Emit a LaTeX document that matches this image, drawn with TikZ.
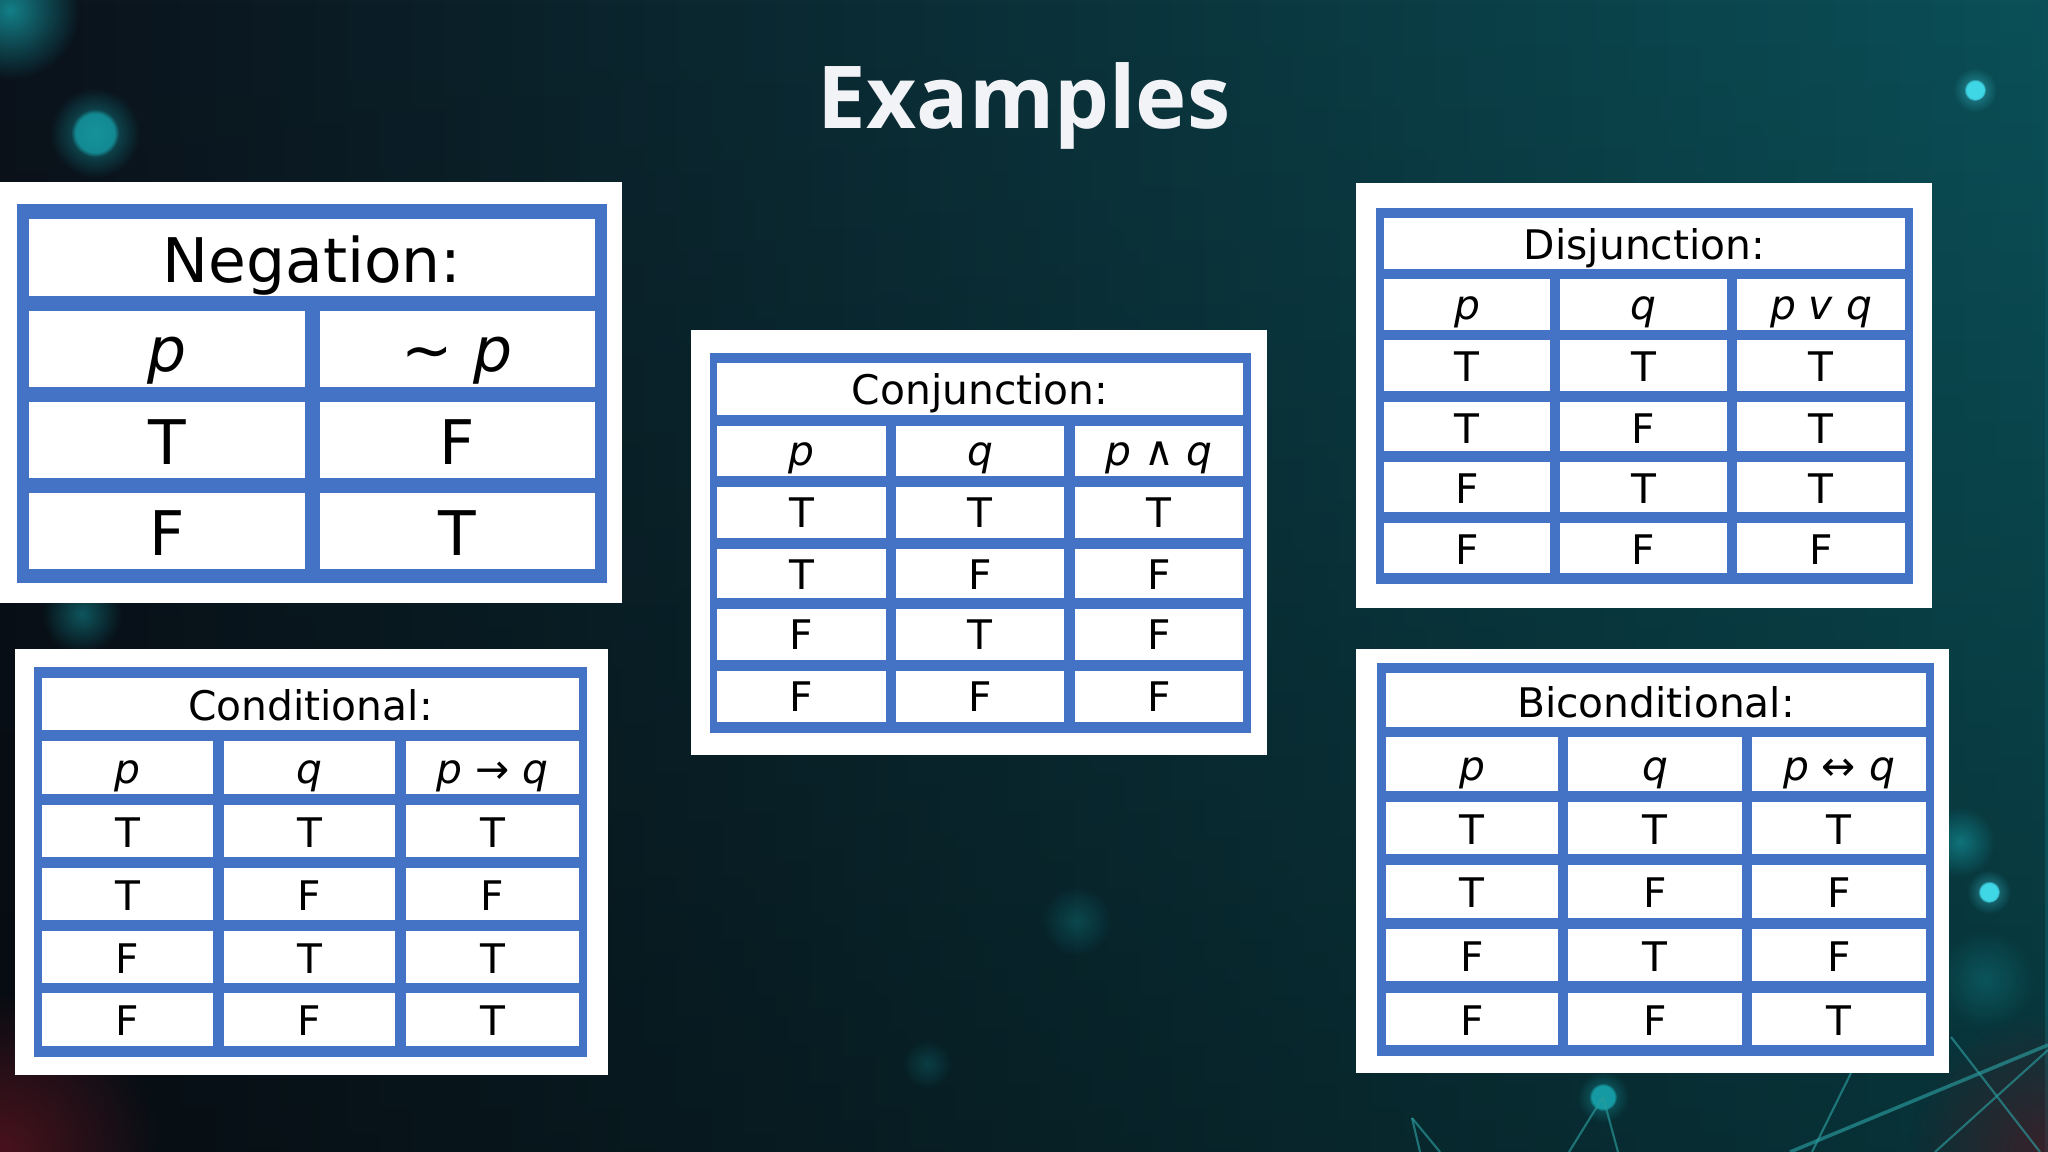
\documentclass[tikz,border=0pt]{standalone}
\usepackage{fontspec}
\setmainfont{DejaVu Sans}
\newfontfamily\titlefont{Open Sans}
\usetikzlibrary{fadings}

\definecolor{tblue}{HTML}{4472C4}
\definecolor{titlewhite}{HTML}{F2F3F7}
\definecolor{bgl}{HTML}{0B121B}
\definecolor{bgm}{HTML}{08303A}
\definecolor{bgr}{HTML}{0B5058}
\definecolor{glowteal}{HTML}{159AA3}
\definecolor{dotcyan}{HTML}{3FD6E6}
\definecolor{wirecol}{HTML}{2A9C9E}
\definecolor{redtint}{HTML}{5A1420}

\tikzfading[name=softglow, inner color=transparent!0, outer color=transparent!100]

\begin{document}
\begin{tikzpicture}[x=0.1mm, y=-0.1mm,
    panel/.style={fill=white},
    frame/.style={fill=tblue},
    cellbox/.style={fill=white},
    entry/.style={anchor=base, inner sep=0pt, text=black, font=\fontsize{11.6}{14}\selectfont},
    bigentry/.style={entry, font=\fontsize{17.5}{21}\selectfont},
    heading/.style={anchor=base, inner sep=0pt, text=titlewhite, font=\titlefont\bfseries\fontsize{24.7}{30}\selectfont},
    glow/.style={path fading=softglow},
    core/.style={path fading=circle with fuzzy edge 20 percent},
    wire/.style={draw=wirecol, line width=0.6pt, opacity=0.65}
]

\useasboundingbox (0,0) rectangle (2048,1152);

% background
\shade[left color=bgl, middle color=bgm, right color=bgr] (0,0) rectangle (2048,1152);
\fill[black, opacity=0.35, path fading=north] (0,0) rectangle (2048,1152);
\fill[redtint, opacity=0.8, glow] (0,1152) circle (16mm);
\fill[redtint, opacity=0.6, glow] (2048,1152) circle (14mm);
\fill[glowteal, opacity=0.8, glow] (10,10) circle (7mm);
\fill[glowteal, opacity=0.7, glow] (95,133) circle (4.5mm);
\fill[glowteal, opacity=0.8, core] (95,133) circle (2.4mm);
\fill[glowteal, opacity=0.5, glow] (82,614) circle (4mm);
\fill[glowteal, opacity=0.3, glow] (1077,921) circle (3.5mm);
\fill[glowteal, opacity=0.25, glow] (927,1064) circle (2.5mm);
\fill[glowteal, opacity=0.6, glow] (1960,842) circle (3.5mm);
\fill[glowteal, opacity=0.3, glow] (1985,980) circle (5mm);
\fill[dotcyan, opacity=0.5, glow] (1975,90) circle (2.2mm);
\fill[dotcyan, core] (1975,90) circle (1.1mm);
\fill[dotcyan, opacity=0.5, glow] (1989,892) circle (2.2mm);
\fill[dotcyan, core] (1989,892) circle (1.1mm);
\fill[glowteal, opacity=0.6, glow] (1603,1097) circle (2.6mm);
\fill[glowteal, core] (1603,1097) circle (1.4mm);

% network lines
\draw[wire] (1603,1097) -- (1569,1152);
\draw[wire] (1603,1097) -- (1618,1152);
\draw[wire, line width=1pt] (1790,1152) -- (2048,1045);
\draw[wire] (1851,1073) -- (1812,1152);
\draw[wire] (1951,1037) -- (2040,1152);
\draw[wire] (2048,1050) -- (1935,1152);
\draw[wire] (1412,1118) -- (1420,1152);
\draw[wire] (1412,1118) -- (1440,1152);

% title
\node[heading] (title) at (1024,129) {Examples};

% Negation table
\fill[panel] (0,182) rectangle (622,603);
\fill[frame] (17,204) rectangle (607,583);
\fill[cellbox] (29,219) rectangle (595,296);
\foreach \cx/\cw in {29/276, 320/275}
  \foreach \ry in {311, 402, 493}
    \fill[cellbox] (\cx,\ry) rectangle ++(\cw,76);
\node[bigentry] (neg) at (312,283) {Negation:};
\node[bigentry] (neg-h1) at (167,372) {\itshape p};
\node[bigentry] (neg-h2) at (457,372) {\textasciitilde\ \itshape p};
\node[bigentry] (neg-1-1) at (167,465) {T};
\node[bigentry] (neg-1-2) at (457,465) {F};
\node[bigentry] (neg-2-1) at (167,556) {F};
\node[bigentry] (neg-2-2) at (457,556) {T};

% Conjunction table
\fill[panel] (691,330) rectangle (1267,755);
\fill[frame] (710,353) rectangle (1251,733);
\fill[cellbox] (717,363) rectangle (1243,415);
\foreach \cx/\cw in {717/169, 896/168, 1075/168}
  \foreach \ry/\rh in {426/50, 487/51, 549/49, 609/51, 671/51}
    \fill[cellbox] (\cx,\ry) rectangle ++(\cw,\rh);
\node[entry] (conj) at (980,405) {Conjunction:};
\node[entry] (conj-h1) at (801.5,466) {\itshape p};
\node[entry] (conj-h2) at (980,466) {\itshape q};
\node[entry] (conj-h3) at (1159,466) {\textit{p} ∧ \textit{q}};
\foreach \r/\ry/\a/\b/\c in {1/487/T/T/T, 2/549/T/F/F, 3/609/F/T/F, 4/671/F/F/F} {
  \node[entry] (conj-\r-1) at (801.5,\ry+41) {\a};
  \node[entry] (conj-\r-2) at (980,\ry+41) {\b};
  \node[entry] (conj-\r-3) at (1159,\ry+41) {\c};
}

% Disjunction table
\fill[panel] (1356,183) rectangle (1932,608);
\fill[frame] (1376,208) rectangle (1913,584);
\fill[cellbox] (1384,218) rectangle (1905,269);
\foreach \cx/\cw in {1384/166, 1560/167, 1737/168}
  \foreach \ry/\rh in {279/51, 340/51, 402/49, 462/50, 523/50}
    \fill[cellbox] (\cx,\ry) rectangle ++(\cw,\rh);
\node[entry] (disj) at (1644.5,260) {Disjunction:};
\node[entry] (disj-h1) at (1467,320) {\itshape p};
\node[entry] (disj-h2) at (1643.5,320) {\itshape q};
\node[entry] (disj-h3) at (1821,320) {\itshape p v q};
\foreach \r/\ry/\a/\b/\c in {1/340/T/T/T, 2/402/T/F/T, 3/462/F/T/T, 4/523/F/F/F} {
  \node[entry] (disj-\r-1) at (1467,\ry+42) {\a};
  \node[entry] (disj-\r-2) at (1643.5,\ry+42) {\b};
  \node[entry] (disj-\r-3) at (1821,\ry+42) {\c};
}

% Conditional table
\fill[panel] (15,649) rectangle (608,1075);
\fill[frame] (34,667) rectangle (587,1057);
\fill[cellbox] (42,678) rectangle (579,730);
\foreach \cx/\cw in {42/171, 224/171, 406/173}
  \foreach \ry/\rh in {741/53, 805/52, 868/52, 931/52, 993/53}
    \fill[cellbox] (\cx,\ry) rectangle ++(\cw,\rh);
\node[entry] (cond) at (310.5,721) {Conditional:};
\node[entry] (cond-h1) at (127.5,784) {\itshape p};
\node[entry] (cond-h2) at (309.5,784) {\itshape q};
\node[entry] (cond-h3) at (492.5,784) {\textit{p} → \textit{q}};
\foreach \r/\ry/\a/\b/\c in {1/805/T/T/T, 2/868/T/F/F, 3/931/F/T/T, 4/993/F/F/T} {
  \node[entry] (cond-\r-1) at (127.5,\ry+43) {\a};
  \node[entry] (cond-\r-2) at (309.5,\ry+43) {\b};
  \node[entry] (cond-\r-3) at (492.5,\ry+43) {\c};
}

% Biconditional table
\fill[panel] (1356,649) rectangle (1949,1073);
\fill[frame] (1377,663) rectangle (1934,1056);
\fill[cellbox] (1386,673) rectangle (1926,727);
\foreach \cx/\cw in {1386/172, 1568/174, 1752/174}
  \foreach \ry/\rh in {737/54, 802/52, 865/53, 929/52, 993/52}
    \fill[cellbox] (\cx,\ry) rectangle ++(\cw,\rh);
\node[entry] (bicond) at (1656,718) {Biconditional:};
\node[entry] (bicond-h1) at (1472,781) {\itshape p};
\node[entry] (bicond-h2) at (1655,781) {\itshape q};
\node[entry] (bicond-h3) at (1839,781) {\textit{p} ↔ \textit{q}};
\foreach \r/\ry/\a/\b/\c in {1/802/T/T/T, 2/865/T/F/F, 3/929/F/T/F, 4/993/F/F/T} {
  \node[entry] (bicond-\r-1) at (1472,\ry+43) {\a};
  \node[entry] (bicond-\r-2) at (1655,\ry+43) {\b};
  \node[entry] (bicond-\r-3) at (1839,\ry+43) {\c};
}

\end{tikzpicture}
\end{document}
